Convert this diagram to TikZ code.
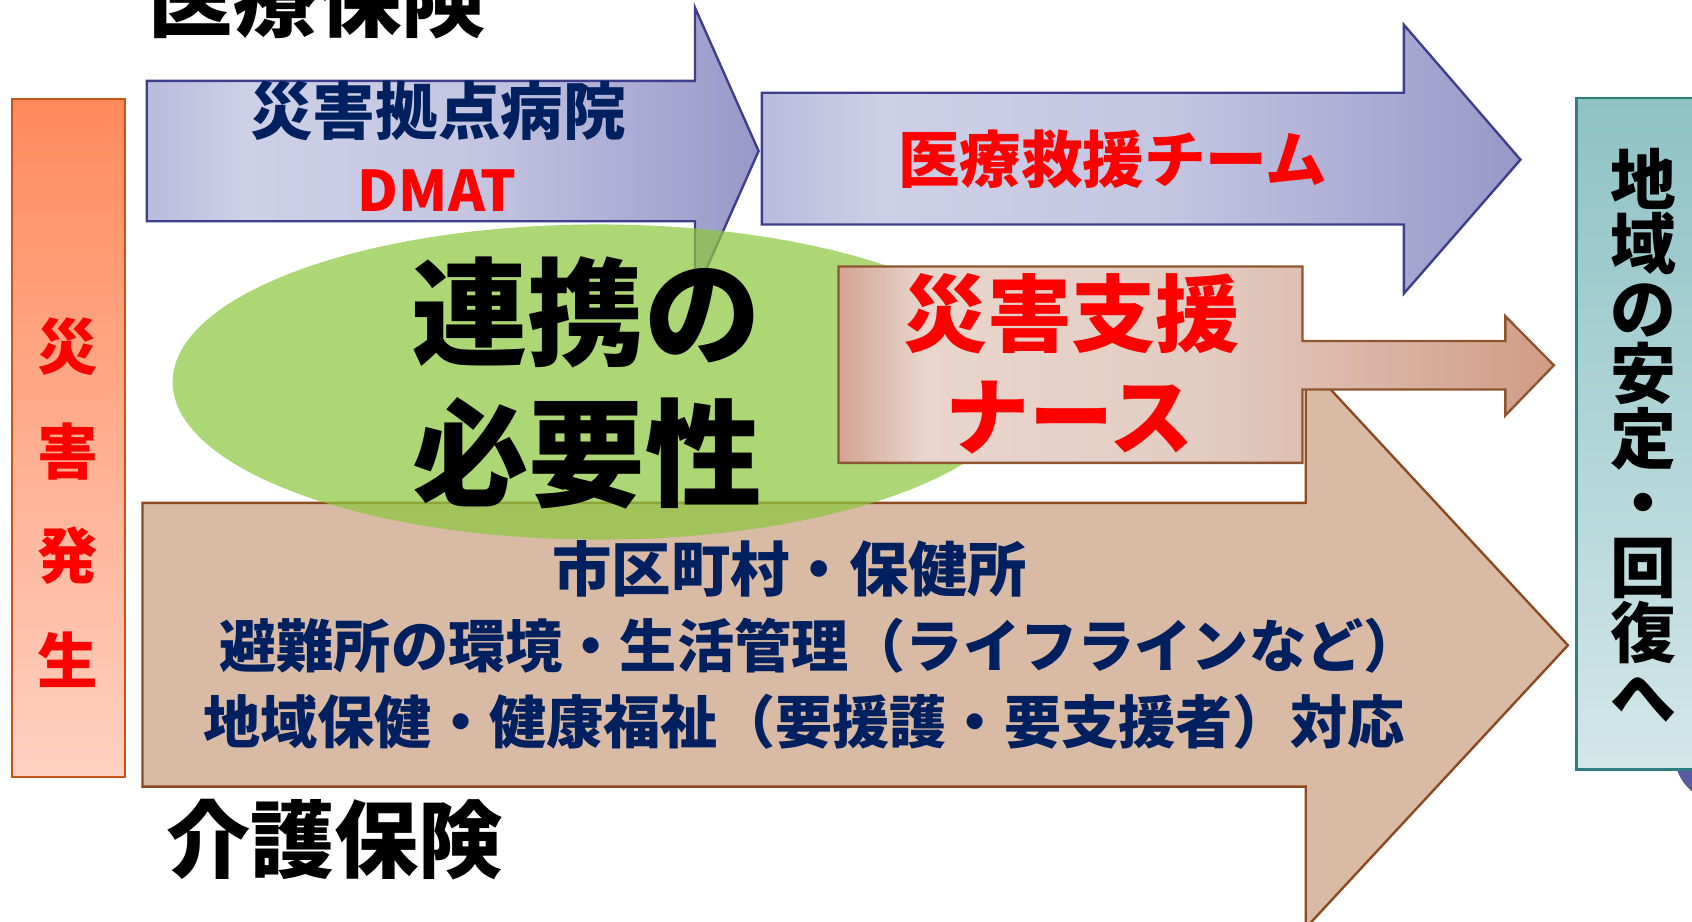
\documentclass[tikz,border=0pt]{standalone}
\usepackage{fontspec}
\setmainfont{Noto Sans CJK JP}
\definecolor{navy}{HTML}{002060}
\definecolor{jred}{HTML}{FF0000}
\definecolor{bL0}{HTML}{B8BBDC}
\definecolor{bL1}{HTML}{CED0E7}
\definecolor{bL2}{HTML}{C4C5E1}
\definecolor{bL3}{HTML}{9898C9}
\definecolor{bBorder}{HTML}{3E3E8C}
\definecolor{pk0}{HTML}{D4A494}
\definecolor{pk1}{HTML}{E8D5CC}
\definecolor{pk2}{HTML}{E3CDC3}
\definecolor{pk3}{HTML}{D19B86}
\definecolor{pkBorder}{HTML}{8E5630}
\definecolor{tanFill}{HTML}{D9BBA5}
\definecolor{tanBorder}{HTML}{8B4A20}
\definecolor{grn}{HTML}{8DC63F}
\definecolor{tealTop}{HTML}{8EC2C5}
\definecolor{tealBot}{HTML}{D4E7E9}
\definecolor{tealBorder}{HTML}{2F7F82}
\definecolor{orTop}{HTML}{FF8A5C}
\definecolor{orBot}{HTML}{FFD1C2}
\definecolor{orBorder}{HTML}{C85516}
\definecolor{purp}{HTML}{5A5AA0}
\pgfdeclarehorizontalshading{blueshade}{100bp}{color(0bp)=(bL0); color(25bp)=(bL0); color(33bp)=(bL1); color(52bp)=(bL2); color(75bp)=(bL3); color(100bp)=(bL3)}
\pgfdeclarehorizontalshading{pinkshade}{100bp}{color(0bp)=(pk0); color(25bp)=(pk0); color(31bp)=(pk1); color(50bp)=(pk2); color(75bp)=(pk3); color(100bp)=(pk3)}
\tikzset{
  bluearrow/.style={shading=blueshade, draw=bBorder, line width=2.2pt},
  pinkarrow/.style={shading=pinkshade, draw=pkBorder, line width=2.2pt},
  tanarrow/.style={fill=tanFill, draw=tanBorder, line width=2.2pt},
  lbl/.style={inner sep=0pt, outer sep=0pt, font=\bfseries\fontsize{#1}{#1}\selectfont},
  vlbl/.style 2 args={inner sep=0pt, outer sep=0pt, align=center, font=\bfseries\fontsize{#1}{#2}\selectfont},
}
\begin{document}
\begin{tikzpicture}[x=1pt,y=-1pt,line join=miter]
\useasboundingbox (0,0) rectangle (1568,854);
\clip (0,0) rectangle (1568,854);
% purple piece behind teal box
\fill[purp] (1600,700) ellipse [x radius=48, y radius=45];
% left box
\draw[top color=orTop, bottom color=orBot, draw=orBorder, line width=2.2pt] (11,92) rectangle (116,720);
% teal box
\draw[top color=tealTop, bottom color=tealBot, draw=tealBorder, line width=2.2pt] (1461,91) rectangle (1620,713);
% blue arrows
\draw[bluearrow] (136,75) -- (644,75) -- (644,7) -- (703,140) -- (644,273) -- (644,205) -- (136,205) -- cycle;
\draw[bluearrow] (706,86) -- (1301,86) -- (1301,23) -- (1409,148) -- (1301,272) -- (1301,208) -- (706,208) -- cycle;
% big tan arrow
\draw[tanarrow] (132,466) -- (1210,466) -- (1210,336) -- (1453,598) -- (1210,860) -- (1210,729) -- (132,729) -- cycle;
% green ellipse
\fill[grn, fill opacity=0.72] (555,354) ellipse [x radius=395, y radius=146];
% pink box with arrow
\draw[pinkarrow] (777,247) -- (1207,247) -- (1207,316) -- (1395,316) -- (1395,293) -- (1440,338.5) -- (1395,385) -- (1395,361) -- (1207,361) -- (1207,429) -- (777,429) -- cycle;
% texts
\node[lbl=78, text=black] (iryo) at (294,-1) {医療保険};
\node[lbl=78, text=black] (kaigo) at (310,778) {介護保険};
\node[lbl=58, text=navy] (kyoten) at (406,103) {災害拠点病院};
\node[lbl=52, text=jred] (dmat) at (405,177) {DMAT};
\node[lbl=57, text=jred] (kyuen) at (1031,148) {医療救援チーム};
\node[lbl=108, text=black] (renkei) at (543,289) {連携の};
\node[lbl=108, text=black] (hitsuyo) at (544,420) {必要性};
\node[lbl=78, text=jred] (shien) at (993,291) {災害支援};
\node[lbl=78, text=jred] (nurse) at (991,387) {ナース};
\node[lbl=55, text=navy] (line1) at (732,527) {市区町村・保健所};
\node[lbl=53, text=navy] (line2) at (760,598) {避難所の環境・生活管理（ライフラインなど）};
\node[lbl=53, text=navy] (line3) at (745,669) {地域保健・健康福祉（要援護・要支援者）対応};
\node[vlbl={56}{97}, text=jred] (hassei) at (63,466) {災\\害\\発\\生};
\node[vlbl={61}{60}, text=black] (chiiki) at (1523,403) {地\\域\\の\\安\\定\\・\\回\\復\\へ};
\end{tikzpicture}
\end{document}
